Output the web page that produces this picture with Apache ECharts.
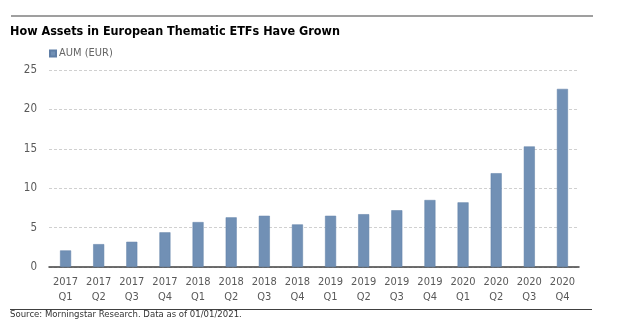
<!DOCTYPE html>
<html>
<head>
<meta charset="utf-8">
<script src="https://cdn.jsdelivr.net/npm/echarts@6/dist/echarts.min.js"></script>
<style>
html,body{margin:0;padding:0;background:#fff;}
#c{width:625px;height:336px;}
</style>
</head>
<body>
<div id="c"></div>
<script>
const categories = ["2017\nQ1","2017\nQ2","2017\nQ3","2017\nQ4","2018\nQ1","2018\nQ2","2018\nQ3","2018\nQ4","2019\nQ1","2019\nQ2","2019\nQ3","2019\nQ4","2020\nQ1","2020\nQ2","2020\nQ3","2020\nQ4"];
const aumValues = [2.1, 2.9, 3.2, 4.4, 5.7, 6.3, 6.5, 5.4, 6.5, 6.7, 7.2, 8.5, 8.2, 11.9, 15.3, 22.6];
const yTicks = [0, 5, 10, 15, 20, 25];
const seriesName = "AUM (EUR)";
const titleText = "How Assets in European Thematic ETFs Have Grown";
const sourceText = "Source: Morningstar Research. Data as of 01/01/2021.";

const FONT = "'Liberation Sans Narrow', 'DejaVu Sans Condensed', Roboto, sans-serif";
const chart = echarts.init(document.getElementById('c'), null, {renderer: 'canvas'});
chart.setOption({
  animation: false,
  backgroundColor: '#ffffff',
  title: [
    {text: titleText, left: 10, top: 25, padding: 0,
     textStyle: {fontFamily: FONT, fontWeight: 'bold', fontSize: 12.5, color: '#000'}},
    {text: sourceText, left: 10, top: 310, padding: 0,
     textStyle: {fontFamily: FONT, fontWeight: 'normal', fontSize: 9.5, color: '#333'}}
  ],
  graphic: [
    {type: 'line', shape: {x1: 11, y1: 16, x2: 593, y2: 16}, style: {stroke: '#7f7f7f', lineWidth: 1.5}},
    {type: 'line', shape: {x1: 10, y1: 309.5, x2: 592, y2: 309.5}, style: {stroke: '#404040', lineWidth: 1}}
  ],
  legend: {
    left: 49, top: 48, padding: 0,
    itemWidth: 6, itemHeight: 6, itemGap: 3,
    icon: 'rect',
    textStyle: {fontFamily: FONT, fontSize: 11, color: '#666', padding: [0, 0, 0, -2]},
    data: [seriesName]
  },
  grid: {left: 49, right: 46, top: 70, bottom: 69, containLabel: false},
  xAxis: {
    type: 'category',
    data: categories,
    axisLine: {lineStyle: {color: '#404040', width: 1.5}},
    axisTick: {show: false},
    axisLabel: {fontFamily: FONT, fontSize: 11, color: '#595959', lineHeight: 14.5, margin: 8, interval: 0}
  },
  yAxis: {
    type: 'value',
    min: yTicks[0], max: yTicks[yTicks.length - 1], interval: 5,
    axisLine: {show: false},
    axisTick: {show: false},
    splitLine: {lineStyle: {color: '#d0d0d0', type: [3, 2], width: 1}},
    axisLabel: {fontFamily: FONT, fontSize: 11.5, color: '#595959', margin: 12}
  },
  series: [{
    name: seriesName,
    type: 'bar',
    data: aumValues,
    barWidth: 11,
    itemStyle: {color: '#7190b5', borderColor: '#5f7ea6', borderWidth: 0.5}
  }]
});
</script>
</body>
</html>
